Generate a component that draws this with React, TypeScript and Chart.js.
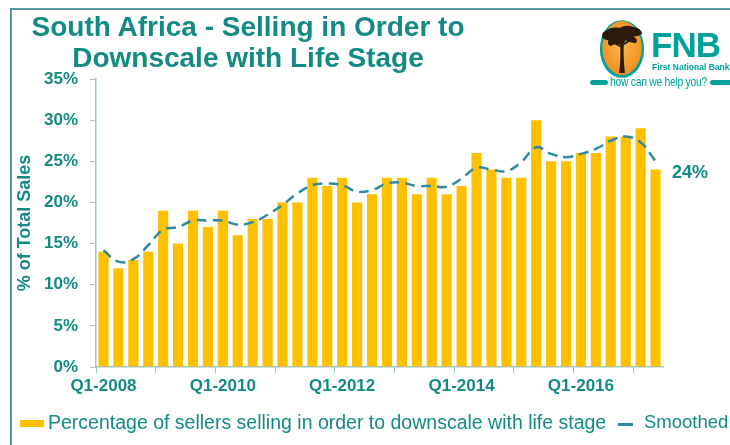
import React, { useEffect, useRef } from "react";
import { Chart, registerables } from "chart.js";

Chart.register(...registerables);

const quarters = [
  "Q1-2008", "Q2-2008", "Q3-2008", "Q4-2008",
  "Q1-2009", "Q2-2009", "Q3-2009", "Q4-2009",
  "Q1-2010", "Q2-2010", "Q3-2010", "Q4-2010",
  "Q1-2011", "Q2-2011", "Q3-2011", "Q4-2011",
  "Q1-2012", "Q2-2012", "Q3-2012", "Q4-2012",
  "Q1-2013", "Q2-2013", "Q3-2013", "Q4-2013",
  "Q1-2014", "Q2-2014", "Q3-2014", "Q4-2014",
  "Q1-2015", "Q2-2015", "Q3-2015", "Q4-2015",
  "Q1-2016", "Q2-2016", "Q3-2016", "Q4-2016",
  "Q1-2017", "Q2-2017",
];

const sellingPct = [
  14, 12, 13, 14, 19, 15, 19, 17, 19, 16,
  18, 18, 20, 20, 23, 22, 23, 20, 21, 23,
  23, 21, 23, 21, 22, 26, 24, 23, 23, 30,
  25, 25, 26, 26, 28, 28, 29, 24,
];

const smoothed = [
  14.2, 12.8, 13.1, 14.8, 16.7, 17.0, 17.8, 17.8, 17.8, 17.3,
  17.6, 18.5, 19.7, 21.1, 22.1, 22.3, 22.1, 21.3, 21.5, 22.3,
  22.4, 22.0, 22.0, 21.9, 22.9, 24.2, 24.0, 23.8, 24.9, 26.7,
  25.9, 25.5, 25.9, 26.5, 27.5, 28.0, 27.3, 25.0,
];

const yTicks = [0, 5, 10, 15, 20, 25, 30, 35];

const TEAL = "#138A83";
const LINE = "#2E8A9E";
const BAR = "#FFC000";
const AXIS = "#9CC4CA";
const FONT = "'Liberation Sans', Arial, sans-serif";

const lastLabelPlugin = {
  id: "lastLabel",
  afterDatasetsDraw(chart: any) {
    const { ctx, chartArea, scales } = chart;
    const v = sellingPct[sellingPct.length - 1];
    const y = scales.y.getPixelForValue(v);
    ctx.save();
    ctx.font = `bold 18px ${FONT}`;
    ctx.fillStyle = TEAL;
    ctx.textAlign = "left";
    ctx.textBaseline = "middle";
    ctx.fillText(`${v}%`, chartArea.right + 9, y + 4);
    ctx.restore();
  },
};

export default function App() {
  const ref = useRef<HTMLCanvasElement | null>(null);

  useEffect(() => {
    if (!ref.current) return;
    const chart = new Chart(ref.current, {
      type: "bar",
      data: {
        labels: quarters,
        datasets: [
          {
            type: "bar",
            label: "Percentage of sellers selling in order to downscale with life stage",
            data: sellingPct,
            backgroundColor: BAR,
            barPercentage: 0.68,
            categoryPercentage: 1,
            order: 1,
          } as any,
          {
            type: "line",
            label: "Smoothed",
            data: smoothed,
            borderColor: LINE,
            borderWidth: 2.5,
            borderDash: [10, 6],
            tension: 0.4,
            pointRadius: 0,
            fill: false,
            order: 0,
          } as any,
        ],
      },
      options: {
        responsive: false,
        animation: false,
        layout: { padding: { left: 11, top: 79, right: 67, bottom: 0 } },
        plugins: {
          legend: { display: false },
          tooltip: { enabled: false },
          title: { display: false },
        },
        scales: {
          x: {
            offset: true,
            grid: {
              offset: true,
              drawOnChartArea: false,
              drawTicks: true,
              tickLength: 6,
              lineWidth: 1,
              color: (c: any) =>
                typeof c.index === "number" && c.index % 4 === 0 ? AXIS : "rgba(0,0,0,0)",
            },
            border: { display: true, color: AXIS, width: 1.5 },
            ticks: {
              autoSkip: false,
              maxRotation: 0,
              minRotation: 0,
              padding: 3,
              color: TEAL,
              font: { family: FONT, size: 17, weight: "bold" },
              callback: (_v: any, i: number) => (i % 8 === 0 ? quarters[i] : ""),
            },
            afterFit: (s: any) => {
              s.height = 78;
            },
          },
          y: {
            min: yTicks[0],
            max: yTicks[yTicks.length - 1],
            afterBuildTicks: (s: any) => {
              s.ticks = yTicks.map((v) => ({ value: v }));
            },
            grid: {
              drawOnChartArea: false,
              drawTicks: true,
              tickLength: 6,
              color: AXIS,
            },
            border: { display: true, color: AXIS, width: 1.5 },
            ticks: {
              padding: 12,
              color: TEAL,
              font: { family: FONT, size: 17, weight: "bold" },
              callback: (v: any) => `${v}%`,
            },
            title: {
              display: true,
              text: "% of Total Sales",
              color: TEAL,
              font: { family: FONT, size: 18, weight: "bold" },
              padding: { top: 3, bottom: 0 },
            },
            afterFit: (s: any) => {
              s.width = 85;
            },
          },
        },
      },
      plugins: [lastLabelPlugin],
    });
    return () => chart.destroy();
  }, []);

  const textBase: React.CSSProperties = {
    position: "absolute",
    fontFamily: FONT,
    color: TEAL,
    whiteSpace: "nowrap",
  };

  return (
    <div
      style={{
        position: "fixed",
        left: 0,
        top: 0,
        width: 730,
        height: 445,
        overflow: "hidden",
        background: "#ffffff",
      }}
    >
      {/* frame */}
      <div
        style={{
          position: "absolute",
          left: 10,
          top: 8,
          width: 760,
          height: 480,
          border: "2px solid #5696A8",
          boxSizing: "border-box",
        }}
      />
      <canvas
        ref={ref}
        width={730}
        height={445}
        style={{ position: "absolute", left: 0, top: 0, width: 730, height: 445 }}
      />
      {/* title */}
      <div
        style={{
          ...textBase,
          left: 18,
          top: 11,
          width: 460,
          textAlign: "center",
          fontWeight: "bold",
          fontSize: 28,
          lineHeight: "31px",
        }}
      >
        South Africa - Selling in Order to
        <br />
        Downscale with Life Stage
      </div>
      {/* logo */}
      <svg
        style={{ position: "absolute", left: 597, top: 17 }}
        width={50}
        height={64}
        viewBox="0 0 52 66"
      >
        <defs>
          <radialGradient id="og" cx="50%" cy="45%" r="60%">
            <stop offset="0%" stopColor="#FDB94E" />
            <stop offset="100%" stopColor="#F08A1C" />
          </radialGradient>
        </defs>
        <ellipse cx={26} cy={33} rx={23} ry={30} fill="#00A19B" />
        <ellipse cx={26} cy={32} rx={20.5} ry={28} fill="url(#og)" />
        <path
          d="M6 16 Q14 9 24 11 Q30 7 38 10 Q46 11 47 17 Q44 20 38 20 Q44 24 40 27 Q33 26 30 24 L28 27 Q27 40 29 58 L23 58 Q25 42 24 28 Q19 27 14 30 Q10 28 12 24 Q6 23 5 20 Z"
          fill="#2A1B0E"
        />
        <path d="M24 30 L14 24 M28 28 L37 22" stroke="#2A1B0E" strokeWidth={2} />
      </svg>
      <div
        style={{
          ...textBase,
          left: 651,
          top: 25,
          fontSize: 35,
          fontWeight: "bold",
          color: "#00A19B",
          lineHeight: "40px",
          letterSpacing: -1,
        }}
      >
        FNB
      </div>
      <div
        style={{
          ...textBase,
          left: 652,
          top: 62,
          fontSize: 8.5,
          fontWeight: "bold",
          color: "#00A19B",
          lineHeight: "10px",
        }}
      >
        First National Bank
      </div>
      <div
        style={{
          position: "absolute",
          left: 590,
          top: 80,
          width: 18,
          height: 5,
          borderRadius: 3,
          background: "#00A19B",
        }}
      />
      <div
        style={{
          ...textBase,
          left: 610,
          top: 75,
          fontSize: 12,
          color: "#00A19B",
          lineHeight: "14px",
          letterSpacing: -0.3,
          transform: "scaleX(0.86)",
          transformOrigin: "0 0",
        }}
      >
        how can we help you?
      </div>
      <div
        style={{
          position: "absolute",
          left: 710,
          top: 80,
          width: 24,
          height: 5,
          borderRadius: 3,
          background: "#00A19B",
        }}
      />
      {/* legend */}
      <div
        style={{
          position: "absolute",
          left: 20,
          top: 420,
          width: 24,
          height: 7,
          background: BAR,
        }}
      />
      <div style={{ ...textBase, left: 48, top: 411, fontSize: 19.5, lineHeight: "22px" }}>
        Percentage of sellers selling in order to downscale with life stage
      </div>
      <div
        style={{
          position: "absolute",
          left: 618,
          top: 423,
          width: 15,
          height: 2.5,
          background: LINE,
        }}
      />
      <div style={{ ...textBase, left: 644, top: 411, fontSize: 18.5, lineHeight: "22px" }}>
        Smoothed
      </div>
    </div>
  );
}
